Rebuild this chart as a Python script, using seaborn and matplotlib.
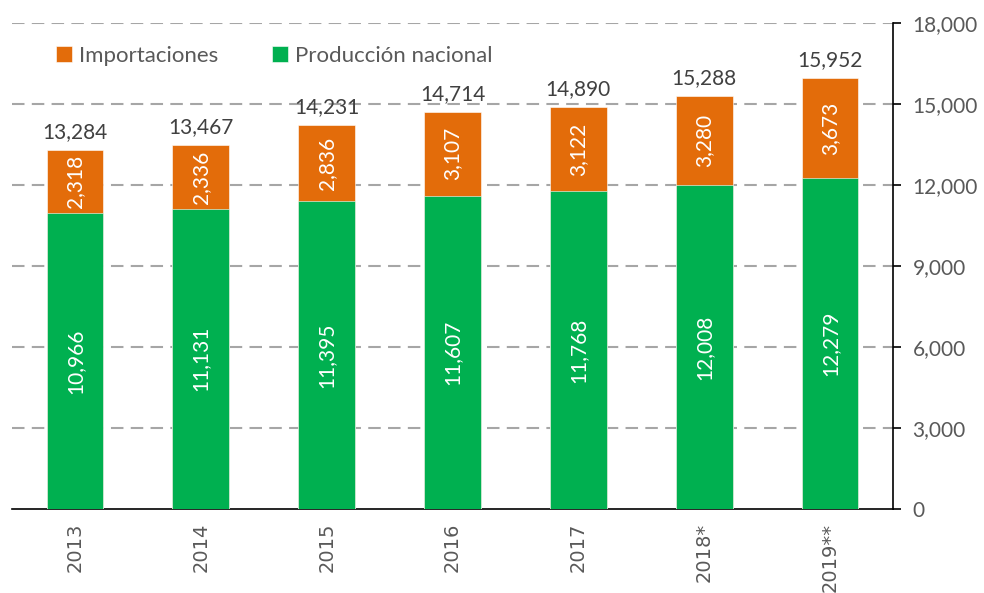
import pandas as pd
import matplotlib.pyplot as plt
import seaborn as sns

# Values
years = ["2013", "2014", "2015", "2016", "2017", "2018*", "2019**"]
produccion = [10966, 11131, 11395, 11607, 11768, 12008, 12279]
importaciones = [2318, 2336, 2836, 3107, 3122, 3280, 3673]
y_ticks = [0, 3000, 6000, 9000, 12000, 15000, 18000]

df = pd.DataFrame({"Year": years, "Produccion": produccion, "Importaciones": importaciones})
df["Total"] = df["Produccion"] + df["Importaciones"]

sns.set_style("white")
plt.rcParams['font.family'] = ['Lato', 'DejaVu Sans']

orange = "#E36C0A"
green = "#00B050"
grey = "#595959"

fig = plt.figure(figsize=(9.84, 5.93), dpi=100)
ax = fig.add_axes([0.0122, 0.1417, 0.8953, 0.8193])

# Stacked: total bar in orange, production drawn over it in green
sns.barplot(data=df, x="Year", y="Total", color=orange, width=0.45, saturation=1,
            label="Importaciones", ax=ax, zorder=3, edgecolor="white", linewidth=0.4)
sns.barplot(data=df, x="Year", y="Produccion", color=green, width=0.45, saturation=1,
            label="Producción nacional", ax=ax, zorder=3, edgecolor="white", linewidth=0.4)

# Labels
for i, row in df.iterrows():
    ax.text(i, row["Produccion"] / 2, f"{row['Produccion']:,}", rotation=90,
            ha="center", va="center", color="white", fontsize=15, zorder=4)
    ax.text(i, row["Produccion"] + row["Importaciones"] / 2, f"{row['Importaciones']:,}",
            rotation=90, ha="center", va="center", color="white", fontsize=15, zorder=4)
    ax.text(i, row["Total"] + 300, f"{row['Total']:,}", ha="center", va="bottom",
            color="#404040", fontsize=15, zorder=4)

ax.set_xlim(-0.5, len(years) - 0.5)
ax.set_ylim(0, 18000)
ax.set_yticks(y_ticks)
ax.set_yticklabels([f"{v:,}" for v in y_ticks], color=grey, fontsize=15)
ax.yaxis.tick_right()
ax.yaxis.set_label_position("right")
ax.tick_params(axis="y", which="major", direction="out", length=6, width=1.2,
               color="black", pad=8, right=True, left=False)

# Category ticks between bars
ax.set_xticks([i - 0.5 for i in range(len(years) + 1)], minor=True)
ax.tick_params(axis="x", which="minor", direction="out", length=6, width=1.2, color="black")
ax.tick_params(axis="x", which="major", length=0, pad=10)
ax.set_xticklabels(years, rotation=90, color=grey, fontsize=14, family="DejaVu Sans")

for v in y_ticks[1:]:
    ax.axhline(v, color="#A6A6A6", linewidth=1.5, linestyle=(0, (6, 3.5)), zorder=1)

for s in ["left", "top"]:
    ax.spines[s].set_visible(False)
for s in ["right", "bottom"]:
    ax.spines[s].set_color("black")
    ax.spines[s].set_linewidth(1.2)

ax.set_xlabel("")
ax.set_ylabel("")

leg = ax.legend(loc="upper left", bbox_to_anchor=(0.027, 0.995), ncol=2, frameon=False,
                fontsize=16, handlelength=0.75, handleheight=0.75, handletextpad=0.3,
                columnspacing=2.4)
for t in leg.get_texts():
    t.set_color(grey)

plt.savefig("out.png", dpi=100)
